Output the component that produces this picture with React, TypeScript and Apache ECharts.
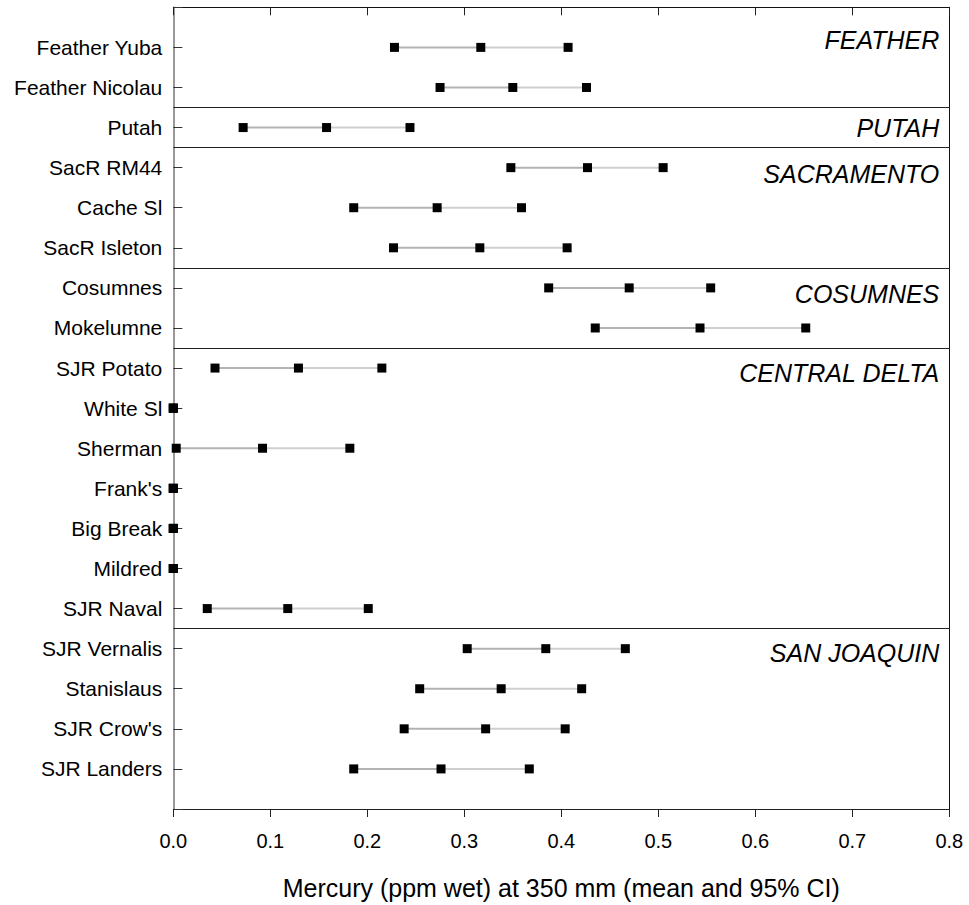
import React, { useEffect, useRef } from "react";
import * as echarts from "echarts";

// Sites, top to bottom
const sites = [
  "Feather Yuba",
  "Feather Nicolau",
  "Putah",
  "SacR RM44",
  "Cache Sl",
  "SacR Isleton",
  "Cosumnes",
  "Mokelumne",
  "SJR Potato",
  "White Sl",
  "Sherman",
  "Frank's",
  "Big Break",
  "Mildred",
  "SJR Naval",
  "SJR Vernalis",
  "Stanislaus",
  "SJR Crow's",
  "SJR Landers",
];

// Mercury (ppm wet) at 350 mm: lower 95% CI, mean, upper 95% CI
const lowerCI = [0.228, 0.275, 0.072, 0.348, 0.186, 0.227, 0.387, 0.435, 0.043, 0, 0.003, 0, 0, 0, 0.035, 0.303, 0.254, 0.238, 0.186];
const meanHg = [0.317, 0.350, 0.158, 0.427, 0.272, 0.316, 0.470, 0.543, 0.129, 0, 0.092, 0, 0, 0, 0.118, 0.384, 0.338, 0.322, 0.276];
const upperCI = [0.407, 0.426, 0.244, 0.505, 0.359, 0.406, 0.554, 0.652, 0.215, 0, 0.182, 0, 0, 0, 0.201, 0.466, 0.421, 0.404, 0.367];

// Regions and how many consecutive sites each holds
const regions = ["FEATHER", "PUTAH", "SACRAMENTO", "COSUMNES", "CENTRAL DELTA", "SAN JOAQUIN"];
const regionSizes = [2, 1, 3, 2, 7, 4];

// Mercury axis ticks
const xTicks = [0, 0.1, 0.2, 0.3, 0.4, 0.5, 0.6, 0.7, 0.8];

const FONT = "'Liberation Sans', Arial, Helvetica, sans-serif";
// vertical nudge (in rows) of each region caption from its first site
const regionNudge = [-0.18, 0, 0.17, 0.16, 0.12, 0.12];

export default function App() {
  const ref = useRef<HTMLDivElement>(null);

  useEffect(() => {
    if (!ref.current) return;
    const chart = echarts.init(ref.current, null, { renderer: "svg" });

    const rows = sites.map((_, i) => [lowerCI[i], meanHg[i], upperCI[i], i]);
    const points: number[][] = [];
    sites.forEach((_, i) => {
      points.push([lowerCI[i], i], [meanHg[i], i], [upperCI[i], i]);
    });

    // region boundaries and captions
    const boundaries: number[] = [];
    const captions: any[] = [];
    let start = 0;
    regions.forEach((name, k) => {
      if (k > 0) boundaries.push(start - 0.5);
      captions.push({ value: [xTicks[xTicks.length - 1], start + regionNudge[k], name] });
      start += regionSizes[k];
    });

    const xMin = xTicks[0];
    const xMax = xTicks[xTicks.length - 1];

    chart.setOption({
      animation: false,
      backgroundColor: "#ffffff",
      grid: { left: 173.3, right: 19.7, top: 7.3, bottom: 94, containLabel: false },
      xAxis: [
        {
          type: "value",
          position: "bottom",
          min: xMin,
          max: xMax,
          interval: 0.1,
          axisLine: { show: true, onZero: false, lineStyle: { color: "#222", width: 1 } },
          axisTick: { show: true, inside: false, length: 8, lineStyle: { color: "#222", width: 1 } },
          axisLabel: {
            formatter: (v: number) => v.toFixed(1),
            fontFamily: FONT,
            fontSize: 20,
            color: "#000",
            margin: 22,
          },
          splitLine: { show: false },
          name: "Mercury (ppm wet) at 350 mm (mean and 95% CI)",
          nameLocation: "middle",
          nameGap: 66,
          nameTextStyle: { fontFamily: FONT, fontSize: 25, color: "#000" },
        },
        {
          type: "value",
          position: "top",
          min: xMin,
          max: xMax,
          interval: 0.1,
          axisLine: { show: true, onZero: false, lineStyle: { color: "#111", width: 1 } },
          axisTick: { show: true, inside: true, length: 8, lineStyle: { color: "#222", width: 1 } },
          axisLabel: { show: false },
          splitLine: { show: false },
        },
      ],
      yAxis: [
        {
          type: "value",
          position: "left",
          inverse: true,
          min: -1,
          max: 19,
          interval: 1,
          axisLine: { show: true, onZero: false, lineStyle: { color: "#777", width: 1.5 } },
          axisTick: { show: true, inside: true, length: 9, lineStyle: { color: "#333", width: 1 } },
          axisLabel: {
            formatter: (v: number) => (Number.isInteger(v) && v >= 0 && v < sites.length ? sites[v] : ""),
            fontFamily: FONT,
            fontSize: 21,
            color: "#000",
            margin: 11,
          },
          splitLine: { show: false },
        },
        {
          type: "value",
          position: "right",
          inverse: true,
          min: -1,
          max: 19,
          interval: 1,
          axisLine: { show: true, onZero: false, lineStyle: { color: "#111", width: 1 } },
          axisTick: { show: false },
          axisLabel: { show: false },
          splitLine: { show: false },
        },
      ],
      series: [
        {
          type: "custom",
          xAxisIndex: 0,
          yAxisIndex: 0,
          data: rows,
          silent: true,
          z: 2,
          renderItem: (params: any, api: any) => {
            const row = api.value(3);
            const a = api.coord([api.value(0), row]);
            const m = api.coord([api.value(1), row]);
            const b = api.coord([api.value(2), row]);
            return {
              type: "group",
              children: [
                {
                  type: "line",
                  shape: { x1: a[0], y1: a[1], x2: m[0], y2: m[1] },
                  style: { stroke: "#b3b3b3", lineWidth: 2 },
                },
                {
                  type: "line",
                  shape: { x1: m[0], y1: m[1], x2: b[0], y2: b[1] },
                  style: { stroke: "#cfcfcf", lineWidth: 2 },
                },
              ],
            };
          },
          markLine: {
            silent: true,
            symbol: ["none", "none"],
            label: { show: false },
            lineStyle: { color: "#222", width: 1, type: "solid" },
            data: boundaries.map((y) => ({ yAxis: y })),
          },
        },
        {
          type: "scatter",
          xAxisIndex: 0,
          yAxisIndex: 0,
          data: points,
          symbol: "rect",
          symbolSize: 9,
          itemStyle: { color: "#000", opacity: 1 },
          clip: false,
          silent: true,
          z: 5,
        },
        {
          type: "scatter",
          xAxisIndex: 0,
          yAxisIndex: 0,
          data: captions,
          symbolSize: 1,
          itemStyle: { color: "rgba(0,0,0,0)", opacity: 1 },
          clip: false,
          silent: true,
          z: 6,
          label: {
            show: true,
            position: "left",
            distance: 9.5,
            formatter: (p: any) => p.value[2],
            fontFamily: FONT,
            fontStyle: "italic",
            fontSize: 25,
            color: "#000",
            opacity: 1,
          },
        },
      ],
    });

    return () => chart.dispose();
  }, []);

  return (
    <div
      ref={ref}
      style={{ position: "fixed", left: 0, top: 0, width: 969, height: 905, background: "#fff" }}
    />
  );
}
